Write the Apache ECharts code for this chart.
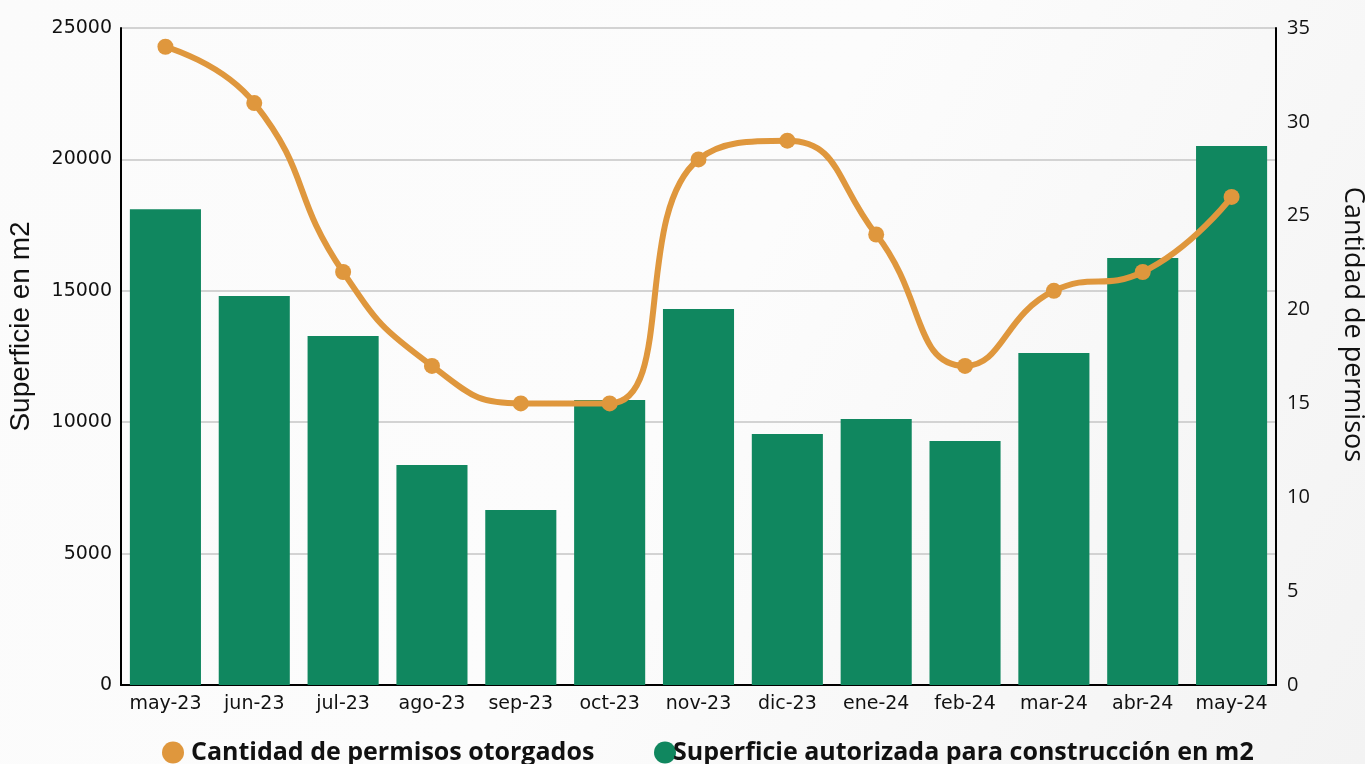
<!DOCTYPE html>
<html>
<head>
<meta charset="utf-8">
<script src="https://cdn.jsdelivr.net/npm/echarts@6/dist/echarts.min.js"></script>
<style>
html,body{margin:0;padding:0;background:#f9f9f9;}
#c{width:1365px;height:764px;}
</style>
</head>
<body>
<div id="c"></div>
<script>
const categories = ['may-23','jun-23','jul-23','ago-23','sep-23','oct-23','nov-23','dic-23','ene-24','feb-24','mar-24','abr-24','may-24'];
const superficie = [18100, 14800, 13280, 8370, 6660, 10840, 14310, 9550, 10120, 9280, 12630, 16250, 20510];
const permisos = [34, 31, 22, 17, 15, 15, 28, 29, 24, 17, 21, 22, 26];
const leftTicks = {min: 0, max: 25000, interval: 5000};
const rightTicks = {min: 0, max: 35, interval: 5};

const GREEN = '#10875f';
const ORANGE = '#df973d';

const chart = echarts.init(document.getElementById('c'));
chart.setOption({
  backgroundColor: {
    type: 'linear', x: 0, y: 0, x2: 1, y2: 1,
    colorStops: [{offset: 0, color: '#fbfbfb'}, {offset: 0.5, color: '#fcfcfc'}, {offset: 1, color: '#f3f3f3'}]
  },
  animation: false,
  grid: {left: 121, right: 89, top: 28, bottom: 79, containLabel: false, outerBoundsMode: 'none'},
  legend: [
    {
      data: [{name: 'Cantidad de permisos otorgados', icon: 'circle'}],
      left: 157, top: 735, itemWidth: 22, itemHeight: 22, itemGap: 0,
      textStyle: {fontFamily: 'Open Sans', fontWeight: 'bold', fontSize: 25, color: '#111', padding: [0, 0, 0, 2]}
    },
    {
      data: [{name: 'Superficie autorizada para construcción en m2', icon: 'circle'}],
      left: 649, top: 735, itemWidth: 22, itemHeight: 22, itemGap: 0,
      textStyle: {fontFamily: 'Open Sans', fontWeight: 'bold', fontSize: 25, color: '#111', padding: [0, 0, 0, -8]}
    }
  ],
  xAxis: {
    type: 'category',
    data: categories,
    axisLine: {show: true, lineStyle: {color: '#000', width: 2}},
    axisTick: {show: false},
    axisLabel: {fontFamily: 'DejaVu Sans', fontSize: 19, color: '#111', margin: 10, interval: 0}
  },
  yAxis: [
    {
      type: 'value',
      min: leftTicks.min, max: leftTicks.max, interval: leftTicks.interval,
      name: 'Superficie en m2',
      nameLocation: 'middle', nameGap: 86, nameRotate: 90,
      nameTextStyle: {fontFamily: 'Liberation Sans', fontSize: 28, color: '#111', padding: [0, 0, 0, 60]},
      axisLine: {show: true, lineStyle: {color: '#000', width: 2}},
      axisTick: {show: false},
      axisLabel: {fontFamily: 'DejaVu Sans', fontSize: 19, color: '#111', margin: 9, formatter: v => String(v)},
      splitLine: {show: true, lineStyle: {color: '#c6c6c6', width: 1.5}}
    },
    {
      type: 'value',
      min: rightTicks.min, max: rightTicks.max, interval: rightTicks.interval,
      name: 'Cantidad de permisos',
      nameLocation: 'middle', nameGap: 63, nameRotate: -90,
      nameTextStyle: {fontFamily: 'Open Sans', fontSize: 27, color: '#111', padding: [0, 64, 0, 0]},
      axisLine: {show: true, lineStyle: {color: '#000', width: 2}},
      axisTick: {show: false},
      axisLabel: {fontFamily: 'Open Sans', fontSize: 20, color: '#111', margin: 11},
      splitLine: {show: false}
    }
  ],
  series: [
    {
      name: 'Superficie autorizada para construcción en m2',
      type: 'bar',
      yAxisIndex: 0,
      data: superficie,
      barCategoryGap: '20%',
      itemStyle: {color: GREEN},
      z: 2
    },
    {
      name: 'Cantidad de permisos otorgados',
      type: 'line',
      yAxisIndex: 1,
      data: permisos,
      smooth: 0.5,
      symbol: 'circle',
      symbolSize: 16,
      lineStyle: {color: ORANGE, width: 6},
      itemStyle: {color: ORANGE},
      z: 3
    }
  ]
});
</script>
</body>
</html>
